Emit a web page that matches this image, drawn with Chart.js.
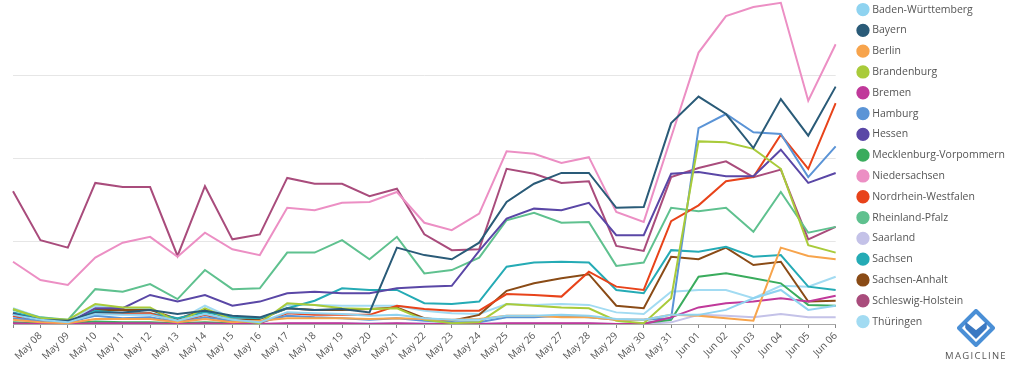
<!DOCTYPE html>
<html>
<head>
<meta charset="utf-8">
<script src="https://cdn.jsdelivr.net/npm/chart.js@4.4.1/dist/chart.umd.min.js"></script>
<style>
  html, body { margin: 0; padding: 0; background: #fff; overflow: hidden; }
  body { width: 1024px; height: 378px; position: relative; font-family: 'Open Sans', sans-serif; }
  #wrap { position: absolute; left: 0; top: -8px; width: 1024px; height: 386px; }
  #logo { position: absolute; left: 936px; top: 309px; width: 80px; text-align: center; }
  #logo svg { display: block; margin: 0 auto; }
  #logo span { display: block; font-size: 9.5px; letter-spacing: 1.3px; color: #555; margin-top: 2px; }
</style>
</head>
<body>
<div id="wrap"><canvas id="chart"></canvas></div>
<div id="logo">
  <svg width="38" height="38" viewBox="0 0 38 38">
    <polygon points="19,2 36,19 19,36 2,19" fill="none" stroke="#4a8fd6" stroke-width="4" stroke-linejoin="round"/>
    <polyline points="9,19 9,14 19,22 29,14 29,19 19,29 9,19" fill="#3b79c2" stroke="#3b79c2" stroke-width="1.5" stroke-linejoin="round"/>
  </svg>
  <span>MAGICLINE</span>
</div>
<script>
// ── Data ──────────────────────────────────────────────────────────────────────
const labels = [
  'May 07', 'May 08', 'May 09', 'May 10', 'May 11', 'May 12', 'May 13', 'May 14',
  'May 15', 'May 16', 'May 17', 'May 18', 'May 19', 'May 20', 'May 21', 'May 22',
  'May 23', 'May 24', 'May 25', 'May 26', 'May 27', 'May 28', 'May 29', 'May 30',
  'May 31', 'Jun 01', 'Jun 02', 'Jun 03', 'Jun 04', 'Jun 05', 'Jun 06'
]

const states = [
  'Baden-Württemberg', 'Bayern', 'Berlin', 'Brandenburg', 'Bremen', 'Hamburg', 'Hessen',
  'Mecklenburg-Vorpommern', 'Niedersachsen', 'Nordrhein-Westfalen', 'Rheinland-Pfalz',
  'Saarland', 'Sachsen', 'Sachsen-Anhalt', 'Schleswig-Holstein', 'Thüringen'
]

const badenWuerttemberg = [11, 5, 2, 12, 11, 11, 4, 12, 5, 2, 14, 13, 12, 10, 11, 7, 5, 5, 10, 10, 11, 10, 6, 5, 11, 11, 17, 31, 41, 17, 22]
const bayern = [12, 5, 4, 14, 14, 17, 12, 16, 10, 8, 19, 17, 18, 14, 92, 83, 78, 98, 147, 169, 182, 182, 140, 141, 242, 274, 253, 212, 271, 227, 286]
const berlin = [5, 2, 1, 6, 6, 6, 2, 6, 2, 4, 7, 7, 7, 6, 7, 6, 5, 6, 10, 10, 8, 8, 5, 5, 11, 10, 7, 4, 92, 82, 78]
const brandenburg = [18, 7, 5, 24, 20, 20, 2, 19, 5, 1, 25, 23, 19, 18, 19, 5, 1, 2, 24, 22, 20, 19, 4, 1, 31, 220, 219, 211, 187, 95, 86]
const bremen = [1, 0, 0, 1, 1, 1, 0, 1, 0, 0, 1, 1, 1, 0, 1, 0, 0, 0, 1, 1, 1, 1, 0, 0, 8, 20, 25, 27, 31, 27, 34]
const hamburg = [7, 4, 2, 10, 7, 8, 2, 8, 4, 2, 10, 8, 7, 5, 7, 4, 2, 2, 8, 8, 10, 8, 5, 5, 7, 236, 253, 231, 229, 177, 214]
const hessen = [13, 2, 1, 19, 19, 35, 27, 35, 22, 27, 37, 39, 37, 37, 43, 45, 46, 88, 127, 139, 137, 146, 107, 107, 181, 183, 178, 178, 210, 170, 182]
const mecklenburgVorpommern = [2, 1, 1, 3, 2, 2, 1, 2, 1, 0, 0, 0, 0, 0, 0, 0, 0, 0, 0, 0, 0, 0, 0, 1, 5, 57, 61, 55, 49, 23, 22]
const niedersachsen = [75, 53, 47, 80, 98, 105, 81, 110, 90, 83, 140, 137, 146, 147, 159, 122, 113, 133, 208, 205, 194, 201, 135, 123, 225, 327, 371, 382, 387, 269, 337]
const nordrheinWestfalen = [10, 1, 1, 12, 12, 13, 2, 11, 2, 1, 13, 11, 11, 11, 22, 18, 16, 16, 36, 35, 33, 63, 45, 41, 124, 143, 172, 177, 228, 187, 266]
const rheinlandPfalz = [17, 8, 5, 42, 39, 48, 30, 65, 42, 43, 86, 86, 101, 78, 105, 61, 65, 80, 125, 134, 122, 123, 70, 74, 140, 136, 140, 111, 159, 110, 117]
const saarland = [1, 0, 0, 1, 1, 1, 0, 1, 0, 0, 1, 1, 1, 1, 1, 1, 0, 0, 1, 1, 1, 1, 0, 0, 2, 11, 10, 8, 12, 8, 8]
const sachsen = [14, 7, 2, 16, 13, 13, 7, 14, 8, 7, 19, 28, 43, 41, 41, 25, 24, 27, 69, 74, 75, 74, 41, 37, 89, 87, 93, 81, 83, 45, 41]
const sachsenAnhalt = [13, 4, 2, 17, 17, 17, 6, 17, 5, 6, 19, 17, 17, 18, 20, 7, 4, 11, 40, 49, 55, 60, 22, 19, 81, 78, 92, 71, 75, 27, 28]
const schleswigHolstein = [160, 101, 92, 170, 165, 165, 82, 166, 102, 108, 176, 169, 169, 154, 163, 108, 89, 90, 187, 181, 170, 172, 94, 88, 177, 188, 196, 177, 186, 102, 117]
const thueringen = [19, 8, 4, 22, 20, 18, 4, 22, 7, 2, 23, 23, 22, 22, 22, 16, 13, 12, 24, 23, 24, 23, 14, 12, 39, 41, 41, 31, 46, 45, 57]

const seriesValues = [
  badenWuerttemberg, bayern, berlin, brandenburg, bremen, hamburg, hessen,
  mecklenburgVorpommern, niedersachsen, nordrheinWestfalen, rheinlandPfalz,
  saarland, sachsen, sachsenAnhalt, schleswigHolstein, thueringen
]

// ── Colors ────────────────────────────────────────────────────────────────────
const STATE_COLORS = {
  'Baden-Württemberg': '#8fd3f0',
  'Bayern': '#2a5b78',
  'Berlin': '#f7a44c',
  'Brandenburg': '#a9cb3a',
  'Bremen': '#c0399a',
  'Hamburg': '#5b94d6',
  'Hessen': '#5a47a6',
  'Mecklenburg-Vorpommern': '#3aac5d',
  'Niedersachsen': '#ec8fc4',
  'Nordrhein-Westfalen': '#e8431a',
  'Rheinland-Pfalz': '#5fc18f',
  'Saarland': '#c4c2e8',
  'Sachsen': '#25abb5',
  'Sachsen-Anhalt': '#8a4b16',
  'Schleswig-Holstein': '#a94c7c',
  'Thüringen': '#a2dbf2'
}

// legend sits a little further from the plot than Chart.js puts it
const legendGap = {
  id: 'legendGap',
  afterLayout(chart) {
    const l = chart.legend
    const w = l.width
    l.left = chart.chartArea.right + 13
    l.right = l.left + w
    l.top += 2
    l.bottom += 2
  }
}

const datasets = states.map((name, i) => ({
  label: name,
  data: seriesValues[i],
  borderColor: STATE_COLORS[name],
  backgroundColor: STATE_COLORS[name],
  borderWidth: 2,
  pointRadius: 0,
  pointHoverRadius: 0,
  tension: 0,
  fill: false
}))

Chart.defaults.font.family = "'Open Sans', sans-serif"

new Chart(document.getElementById('chart'), {
  type: 'line',
  data: { labels, datasets },
  plugins: [legendGap],
  options: {
    responsive: true,
    maintainAspectRatio: false,
    animation: false,
    layout: { padding: { left: 13, right: 22, top: 0, bottom: 0 } },
    plugins: {
      title: { display: false },
      tooltip: { enabled: false },
      legend: {
        position: 'right',
        align: 'start',
        labels: {
          usePointStyle: true,
          pointStyle: 'circle',
          boxWidth: 8,
          boxHeight: 8,
          padding: 10.3,
          color: '#555',
          font: { size: 10.5 }
        }
      }
    },
    scales: {
      x: {
        grid: { display: true, drawOnChartArea: false, drawTicks: true, tickLength: 4, color: '#888' },
        border: { display: true, color: '#a8a8a8' },
        ticks: {
          autoSkip: false,
          minRotation: 45,
          maxRotation: 45,
          padding: 2,
          color: '#555',
          font: { size: 10 },
          callback: (v, i) => (i === 0 ? '' : labels[i])
        },
        afterFit: scale => { scale.height = 54 }
      },
      y: {
        min: 0,
        max: 400,
        grid: { color: '#e6e6e6', drawTicks: false },
        border: { display: false },
        ticks: { display: false, stepSize: 100 }
      }
    }
  }
})
</script>
</body>
</html>
